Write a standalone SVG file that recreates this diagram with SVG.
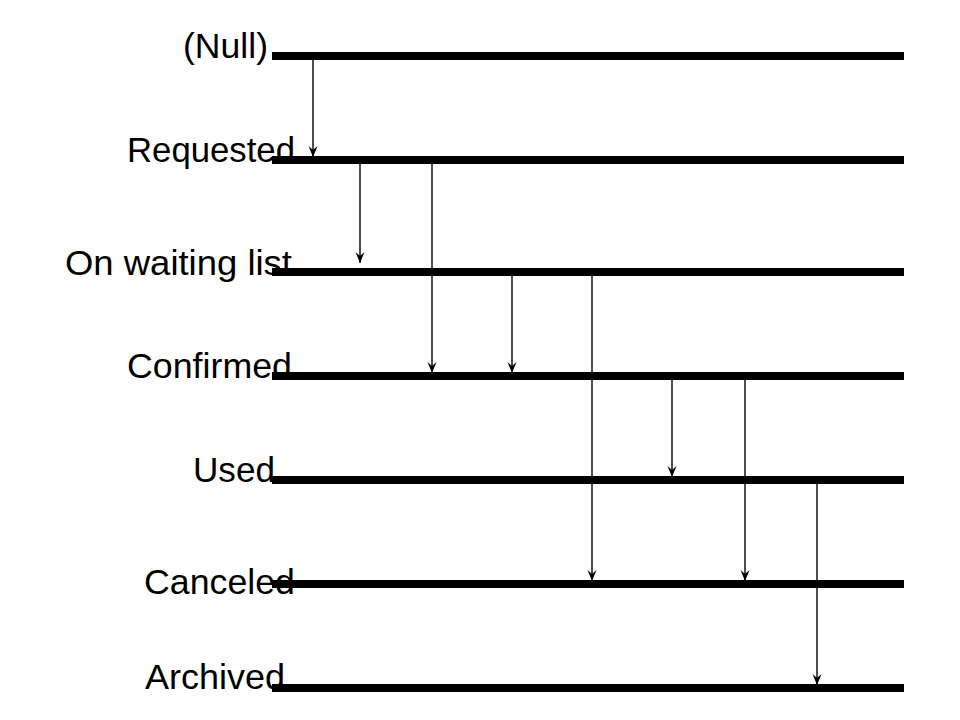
<svg xmlns="http://www.w3.org/2000/svg" width="960" height="720" viewBox="0 0 960 720">
<defs>
<style>
.lbl{font-family:"Liberation Sans",Arial,sans-serif;font-size:35px;fill:#000}
.bar{stroke:#000;stroke-width:8;fill:none}
.arr{stroke:#000;stroke-width:1.4;fill:none;marker-end:url(#ah)}
</style>
<marker id="ah" markerUnits="userSpaceOnUse" markerWidth="14" markerHeight="12" viewBox="-12 -6 14 12" refX="0" refY="0" orient="auto">
<path d="M0,0 L-11,-4.5 L-7,0 L-11,4.5 Z" fill="#000"/>
</marker>
</defs>
<rect width="960" height="720" fill="#fff"/>
<g id="state-null"><line class="bar" x1="272" y1="56" x2="904" y2="56"/><text class="lbl" x="183" y="58" textLength="85" lengthAdjust="spacingAndGlyphs">(Null)</text></g>
<g id="state-requested"><line class="bar" x1="272" y1="160" x2="904" y2="160"/><text class="lbl" x="127" y="162" textLength="168" lengthAdjust="spacingAndGlyphs">Requested</text></g>
<g id="state-waiting"><line class="bar" x1="272" y1="272" x2="904" y2="272"/><text class="lbl" x="65" y="275" textLength="227" lengthAdjust="spacingAndGlyphs">On waiting list</text></g>
<g id="state-confirmed"><line class="bar" x1="272" y1="376" x2="904" y2="376"/><text class="lbl" x="127" y="378" textLength="165" lengthAdjust="spacingAndGlyphs">Confirmed</text></g>
<g id="state-used"><line class="bar" x1="272" y1="480" x2="904" y2="480"/><text class="lbl" x="193" y="482" textLength="82" lengthAdjust="spacingAndGlyphs">Used</text></g>
<g id="state-canceled"><line class="bar" x1="272" y1="584" x2="904" y2="584"/><text class="lbl" x="144" y="594" textLength="151" lengthAdjust="spacingAndGlyphs">Canceled</text></g>
<g id="state-archived"><line class="bar" x1="272" y1="688" x2="904" y2="688"/><text class="lbl" x="145" y="689" textLength="140" lengthAdjust="spacingAndGlyphs">Archived</text></g>
<g id="connectors">
<line class="arr" x1="313" y1="60" x2="313" y2="157"/>
<line class="arr" x1="360" y1="164" x2="360" y2="263"/>
<line class="arr" x1="432" y1="164" x2="432" y2="373"/>
<line class="arr" x1="512" y1="276" x2="512" y2="373"/>
<line class="arr" x1="592" y1="276" x2="592" y2="581"/>
<line class="arr" x1="672" y1="380" x2="672" y2="477"/>
<line class="arr" x1="745" y1="380" x2="745" y2="581"/>
<line class="arr" x1="817" y1="484" x2="817" y2="685"/>
</g>
</svg>
